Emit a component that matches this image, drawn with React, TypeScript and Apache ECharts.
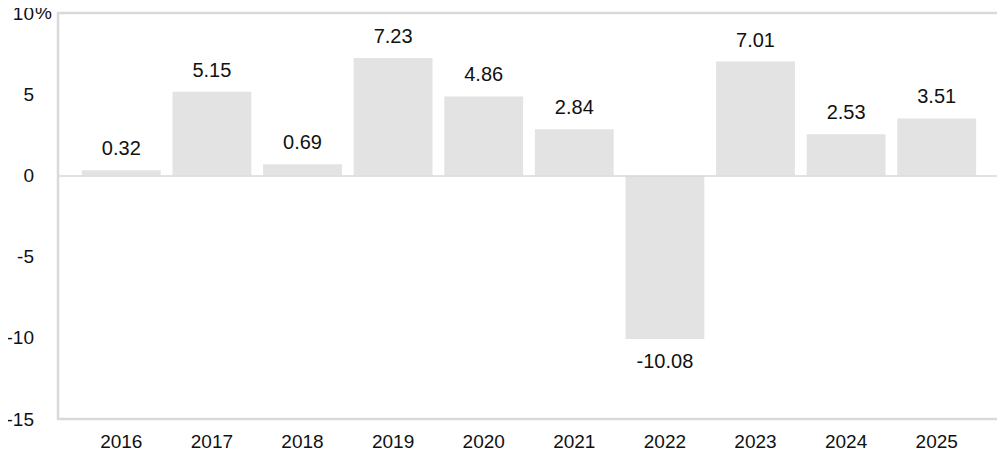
import React, { useEffect, useRef } from "react";
import * as echarts from "echarts";

const years = ["2016", "2017", "2018", "2019", "2020", "2021", "2022", "2023", "2024", "2025"];
const returns = [0.32, 5.15, 0.69, 7.23, 4.86, 2.84, -10.08, 7.01, 2.53, 3.51];
const yTicks = [-15, -10, -5, 0, 5, 10];

const FONT = "'Liberation Sans', Arial, sans-serif";
const TXT = "#111";

export default function App() {
  const ref = useRef<HTMLDivElement>(null);
  useEffect(() => {
    if (!ref.current) return;
    const chart = echarts.init(ref.current, undefined, { renderer: "svg" });
    const yMin = yTicks[0];
    const yMax = yTicks[yTicks.length - 1];
    chart.setOption({
      animation: false,
      grid: [
        {
          left: 58,
          right: 6,
          top: 13,
          bottom: 38,
          show: true,
          borderColor: "#d9d9d9",
          borderWidth: 2.5,
          backgroundColor: "transparent",
        },
        { left: 76, right: 23, top: 13, bottom: 38 },
      ],
      xAxis: [
        { type: "value", gridIndex: 0, min: 0, max: 1, show: false },
        {
          type: "category",
          gridIndex: 1,
          data: years,
          axisLine: { show: false },
          axisTick: { show: false },
          axisLabel: { color: TXT, fontSize: 19, fontFamily: FONT, margin: 13 },
        },
      ],
      yAxis: [
        {
          type: "value",
          gridIndex: 0,
          min: yMin,
          max: yMax,
          interval: 5,
          axisLine: { show: false },
          axisTick: { show: false },
          splitLine: { show: false },
          axisLabel: { color: TXT, fontSize: 19, fontFamily: FONT, margin: 24 },
        },
        {
          type: "value",
          gridIndex: 1,
          min: yMin,
          max: yMax,
          interval: 5,
          show: false,
          splitLine: { show: false },
        },
      ],
      graphic: [
        {
          type: "text",
          left: 35,
          top: 3,
          style: { text: "%", fontSize: 19, fontFamily: FONT, fill: TXT },
        },
      ],
      series: [
        {
          type: "line",
          xAxisIndex: 0,
          yAxisIndex: 0,
          data: [],
          markLine: {
            silent: true,
            symbol: "none",
            label: { show: false },
            lineStyle: { color: "#d9d9d9", width: 1.5, type: "solid" },
            data: [{ yAxis: 0 }],
          },
        },
        {
          type: "bar",
          xAxisIndex: 1,
          yAxisIndex: 1,
          barWidth: "87%",
          itemStyle: { color: "#e3e3e3" },
          data: returns.map((v) => ({
            value: v,
            label: { position: v < 0 ? "bottom" : "top" },
          })),
          label: {
            show: true,
            distance: 12,
            color: TXT,
            fontSize: 20,
            fontFamily: FONT,
            formatter: (p: any) => p.value.toFixed(2),
          },
        },
      ],
    });
    return () => chart.dispose();
  }, []);
  return <div ref={ref} style={{ width: 1005, height: 457, margin: -8 }} />;
}
